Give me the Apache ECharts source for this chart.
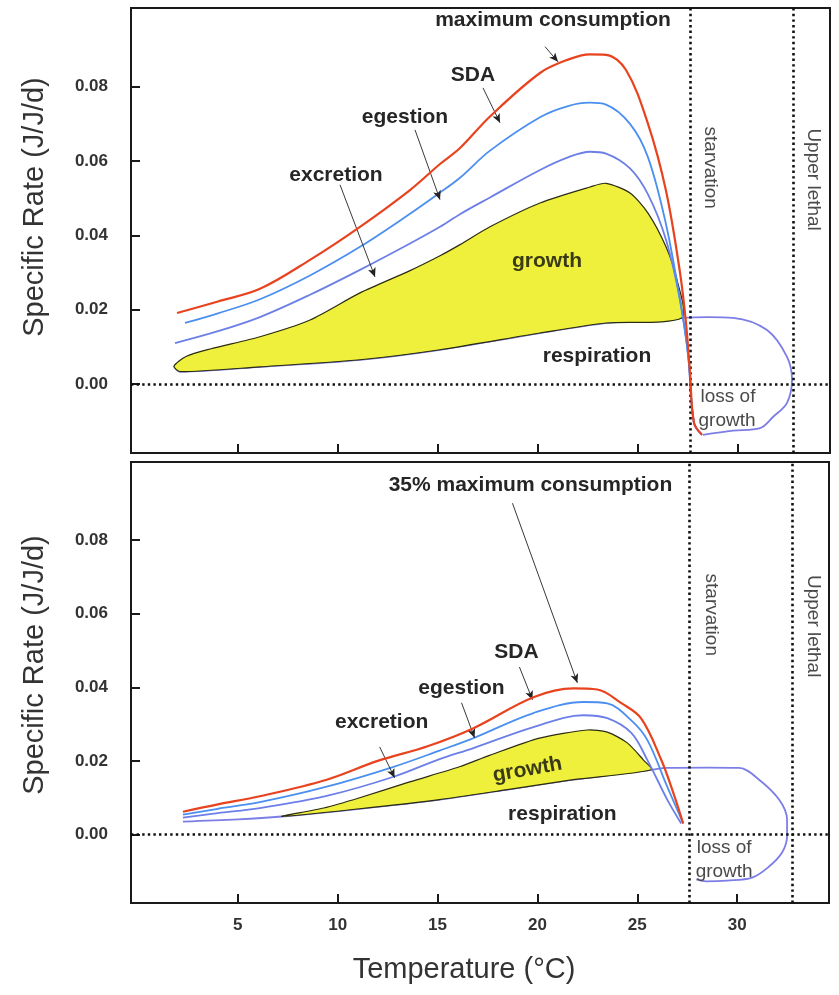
<!DOCTYPE html>
<html>
<head>
<meta charset="utf-8">
<title>Specific rate vs temperature</title>
<script src="https://cdn.jsdelivr.net/npm/echarts@6/dist/echarts.min.js"></script>
<style>
  html, body { margin: 0; padding: 0; background: #ffffff; }
  #chart { width: 839px; height: 995px; }
</style>
</head>
<body>
<div id="chart"></div>
<script>
// ---------- data: temperature (°C) vs specific rate (J/J/d) ----------
// Upper panel: full ration
const consumptionA = [[1.95,0.0191],[4.0,0.0222],[6.1,0.0256],[8.6,0.0334],[11.1,0.0423],[13.6,0.0522],[15.1,0.0592],[16.1,0.0635],[17.6,0.0720],[20.1,0.0837],[21.5,0.0873],[22.6,0.0887],[23.4,0.0886],[24.4,0.0845],[25.5,0.0700],[26.4,0.0520],[27.1,0.0300],[27.4,0.0164],[27.6,0.0030],[27.8,-0.0105],[28.2,-0.0137]];
const egestionTopA = [[2.35,0.0164],[4.0,0.0190],[6.1,0.0228],[8.6,0.0292],[11.1,0.0369],[13.6,0.0458],[15.1,0.0515],[16.1,0.0555],[17.6,0.0628],[20.1,0.0718],[21.5,0.0748],[22.6,0.0757],[23.4,0.0752],[24.6,0.0700],[25.5,0.0610],[26.4,0.0430],[27.1,0.0226],[27.5,0.0080],[27.8,-0.0105],[28.2,-0.0137]];
const excretionTopA = [[1.85,0.0110],[4.0,0.0142],[6.1,0.0180],[8.6,0.0240],[11.1,0.0307],[13.6,0.0378],[15.1,0.0423],[16.1,0.0457],[17.6,0.0502],[20.1,0.0576],[21.5,0.0610],[22.6,0.0625],[23.4,0.0620],[24.6,0.0580],[25.5,0.0510],[26.4,0.0388],[27.1,0.0226],[27.5,0.0080],[27.8,-0.0105],[28.2,-0.0137]];
const growthTopA = [[1.8,0.0048],[2.4,0.0074],[3.6,0.0094],[6.1,0.0127],[8.6,0.0172],[11.1,0.0245],[13.6,0.0305],[15.1,0.0345],[16.1,0.0375],[17.6,0.0423],[20.1,0.0487],[22.6,0.0530],[23.4,0.0540],[24.6,0.0514],[25.5,0.0460],[26.4,0.0369],[26.95,0.0280],[27.2,0.0178]];
const respirationA = [[1.8,0.0048],[2.1,0.0033],[6.1,0.0046],[11.1,0.0065],[15.1,0.0092],[20.1,0.0137],[23.4,0.0164],[27.2,0.0178]];
const lossA = [[28.5,0.0180],[29.75,0.0178],[31.45,0.0145],[32.45,0.0073],[32.7,0.0011],[32.45,-0.0051],[31.75,-0.0089],[31.1,-0.0119],[29.75,-0.0126],[28.25,-0.0137]];

// Lower panel: 35% of maximum ration
const consumptionB = [[2.25,0.0062],[4.0,0.0082],[6.1,0.0104],[9.45,0.0149],[12.0,0.0200],[14.5,0.0240],[16.8,0.0289],[19.8,0.0373],[21.8,0.0397],[23.0,0.0394],[24.2,0.0357],[25.2,0.0315],[26.2,0.0203],[26.8,0.0114],[27.3,0.0030]];
const egestionTopB = [[2.25,0.0054],[4.0,0.0070],[6.1,0.0088],[9.45,0.0130],[12.8,0.0184],[15.1,0.0228],[16.8,0.0262],[19.8,0.0330],[22.3,0.0360],[23.5,0.0356],[24.7,0.0310],[25.5,0.0257],[26.5,0.0130],[27.3,0.0030]];
const excretionTopB = [[2.25,0.0046],[4.0,0.0058],[6.1,0.0072],[9.45,0.0105],[12.8,0.0157],[15.1,0.0205],[16.8,0.0235],[19.8,0.0292],[22.3,0.0324],[23.5,0.0316],[24.7,0.0276],[25.5,0.0203],[26.5,0.0095],[27.2,0.0030]];
const growthTopB = [[7.2,0.0049],[9.3,0.0072],[11.1,0.0100],[13.6,0.0143],[16.1,0.0184],[17.6,0.0215],[20.1,0.0262],[22.5,0.0284],[23.5,0.0278],[24.5,0.0249],[25.3,0.0203],[25.7,0.0176]];
const respirationB = [[2.25,0.0035],[5.0,0.0041],[7.2,0.0049],[11.1,0.0070],[15.1,0.0095],[18.5,0.0122],[21.8,0.0149],[25.7,0.0176]];
const lossB = [[26.5,0.0181],[28.5,0.0182],[30.1,0.0181],[31.1,0.0149],[32.1,0.0095],[32.5,0.0041],[32.5,-0.0005],[32.25,-0.0049],[31.6,-0.0087],[30.75,-0.0117],[29.5,-0.0125],[28.45,-0.0127],[27.95,-0.0122]];

// thresholds and axes
const starvationTemp = 27.6;
const upperLethalTemp = 32.75;
const xTicks = [5, 10, 15, 20, 25, 30];
const yTicks = [0, 0.02, 0.04, 0.06, 0.08];

// ---------- styling / layout ----------
const FONT = '"Liberation Sans", Arial, Helvetica, sans-serif';
const C = {
  consumption: '#e8431e',
  egestion: '#4b8ff0',
  excretion: '#6c7fe8',
  loss: '#7c7ee6',
  fill: '#eff03c',
  outline: '#2c2c14',
  ink: '#222222'
};
const X_MIN = -0.35, X_MAX = 34.6, Y_MIN = -0.0186, Y_MAX = 0.1012;

// annotation placement, per panel (data coordinates)
const layoutA = {
  labels: [
    { text: 'maximum consumption', at: [20.75, 0.0980], kind: 'bold' },
    { text: 'SDA', at: [16.75, 0.0832], kind: 'bold' },
    { text: 'egestion', at: [13.35, 0.0717], kind: 'bold' },
    { text: 'excretion', at: [9.9, 0.0563], kind: 'bold' },
    { text: 'growth', at: [20.45, 0.0329], kind: 'fill' },
    { text: 'respiration', at: [22.95, 0.0075], kind: 'bold' },
    { text: 'loss of', at: [29.5, -0.0035], kind: 'plain' },
    { text: 'growth', at: [29.45, -0.0100], kind: 'plain' },
    { text: 'starvation', at: [28.6, 0.0582], kind: 'plain', rotate: -90 },
    { text: 'Upper lethal', at: [33.75, 0.0550], kind: 'plain', rotate: -90 }
  ],
  pointers: [
    [[20.35, 0.0908], [21.0, 0.0867]],
    [[17.25, 0.0797], [18.1, 0.0703]],
    [[13.85, 0.0684], [15.1, 0.0496]],
    [[10.1, 0.0536], [11.85, 0.0288]]
  ]
};
const layoutB = {
  labels: [
    { text: '35% maximum consumption', at: [19.65, 0.0949], kind: 'bold' },
    { text: 'SDA', at: [18.95, 0.0496], kind: 'bold' },
    { text: 'egestion', at: [16.2, 0.0398], kind: 'bold' },
    { text: 'excretion', at: [12.2, 0.0304], kind: 'bold' },
    { text: 'growth', at: [19.5, 0.0176], kind: 'fill', rotate: 10 },
    { text: 'respiration', at: [21.25, 0.0054], kind: 'bold' },
    { text: 'loss of', at: [29.35, -0.0035], kind: 'plain' },
    { text: 'growth', at: [29.35, -0.0100], kind: 'plain' },
    { text: 'starvation', at: [28.7, 0.0597], kind: 'plain', rotate: -90 },
    { text: 'Upper lethal', at: [33.8, 0.0566], kind: 'plain', rotate: -90 }
  ],
  pointers: [
    [[18.75, 0.0900], [22.0, 0.0412]],
    [[19.1, 0.0455], [19.75, 0.0366]],
    [[16.2, 0.0358], [16.85, 0.0263]],
    [[12.1, 0.0238], [12.85, 0.0154]]
  ]
};

const labelStyles = {
  bold:  { fontSize: 21, fontWeight: 'bold', color: '#262626' },
  fill:  { fontSize: 21, fontWeight: 'bold', color: '#3a3a16' },
  plain: { fontSize: 19, fontWeight: 'normal', color: '#4a4a4a' }
};

// closed outline of the growth band: upper edge left->right, respiration back right->left
function growthOutline(top, resp) {
  const x0 = top[0][0], x1 = top[top.length - 1][0];
  const lower = resp.filter(p => p[0] > x0 && p[0] < x1).reverse();
  return top.concat(lower);
}

function panelSeries(i, d, layout) {
  const lineBase = {
    type: 'line', xAxisIndex: i, yAxisIndex: i, showSymbol: false,
    smooth: 0.35, silent: true, animation: false
  };
  const outline = growthOutline(d.growthTop, d.respiration);
  return [
    // respiration continuing into the loss-of-growth loop
    Object.assign({}, lineBase, {
      name: 'respiration', z: 1,
      data: d.respiration.concat(d.loss),
      lineStyle: { color: C.loss, width: 1.8 }
    }),
    // growth band
    {
      type: 'custom', xAxisIndex: i, yAxisIndex: i, z: 2, silent: true, animation: false,
      data: [0],
      renderItem: function (params, api) {
        return {
          type: 'polygon',
          shape: { points: outline.map(p => api.coord(p)), smooth: 0.25 },
          style: { fill: C.fill, stroke: C.outline, lineWidth: 1.2 }
        };
      }
    },
    Object.assign({}, lineBase, {
      name: 'excretion', z: 3, data: d.excretionTop,
      lineStyle: { color: C.excretion, width: 1.8 }
    }),
    Object.assign({}, lineBase, {
      name: 'egestion', z: 4, data: d.egestionTop,
      lineStyle: { color: C.egestion, width: 1.8 }
    }),
    Object.assign({}, lineBase, {
      name: 'consumption', z: 5, data: d.consumption,
      lineStyle: { color: C.consumption, width: 2.2 }
    }),
    // dotted guides: zero line, starvation and upper lethal temperatures
    {
      type: 'line', xAxisIndex: i, yAxisIndex: i, data: [], z: 6, silent: true, animation: false,
      markLine: {
        silent: true, symbol: 'none', animation: false,
        label: { show: false },
        lineStyle: { color: '#111', width: 2.6, type: [2.4, 3.2], cap: 'butt' },
        data: [{ yAxis: 0 }, { xAxis: starvationTemp }, { xAxis: upperLethalTemp }]
      }
    },
    // pointer arrows and text labels
    {
      type: 'line', xAxisIndex: i, yAxisIndex: i, data: [], z: 7, silent: true, animation: false,
      markLine: {
        silent: true, animation: false,
        symbol: ['none', 'arrow'], symbolSize: 8,
        label: { show: false },
        lineStyle: { color: '#222', width: 0.9, type: 'solid' },
        data: layout.pointers.map(p => [
          { coord: p[0], symbol: 'none' },
          { coord: p[1], symbol: 'arrow', symbolSize: [6, 9] }
        ])
      },
      markPoint: {
        silent: true, animation: false,
        symbol: 'circle', symbolSize: 1,
        itemStyle: { color: 'rgba(0,0,0,0)' },
        data: layout.labels.map(l => ({
          name: l.text,
          coord: l.at,
          label: Object.assign({
            show: true, position: 'inside', formatter: '{b}',
            fontFamily: FONT, rotate: l.rotate || 0
          }, labelStyles[l.kind])
        }))
      }
    }
  ];
}

const chart = echarts.init(document.getElementById('chart'), null, { renderer: 'canvas' });

function xAxisFor(i) {
  return {
    type: 'value', gridIndex: i, min: X_MIN, max: X_MAX,
    axisLine: { show: true, onZero: false, lineStyle: { color: '#1a1a1a', width: 2 } },
    splitLine: { show: false },
    axisTick: { show: true, inside: true, length: 9, customValues: xTicks,
                lineStyle: { color: '#1a1a1a', width: 2 } },
    axisLabel: { show: i === 1, customValues: xTicks, margin: 14,
                 fontFamily: FONT, fontSize: 17, fontWeight: 'bold', color: '#333' }
  };
}
function yAxisFor(i) {
  return {
    type: 'value', gridIndex: i, min: Y_MIN, max: Y_MAX,
    axisLine: { show: true, onZero: false, lineStyle: { color: '#1a1a1a', width: 2 } },
    splitLine: { show: false },
    axisTick: { show: true, inside: true, length: 9, customValues: yTicks,
                lineStyle: { color: '#1a1a1a', width: 2 } },
    axisLabel: { customValues: yTicks, margin: 23, formatter: v => v.toFixed(2),
                 fontFamily: FONT, fontSize: 17, fontWeight: 'bold', color: '#333' }
  };
}

const titleStyle = { fontFamily: FONT, fontSize: 29, fill: '#333', textAlign: 'center', textVerticalAlign: 'middle' };

chart.setOption({
  animation: false,
  backgroundColor: '#ffffff',
  grid: [
    { left: 131, top: 8, width: 699, height: 445, show: true, borderColor: '#1a1a1a', borderWidth: 2 },
    { left: 131, top: 462, width: 698, height: 441, show: true, borderColor: '#1a1a1a', borderWidth: 2 }
  ],
  xAxis: [xAxisFor(0), xAxisFor(1)],
  yAxis: [yAxisFor(0), yAxisFor(1)],
  graphic: [
    { type: 'text', x: 35, y: 207, rotation: Math.PI / 2, style: Object.assign({ text: 'Specific Rate (J/J/d)' }, titleStyle) },
    { type: 'text', x: 35, y: 665, rotation: Math.PI / 2, style: Object.assign({ text: 'Specific Rate (J/J/d)' }, titleStyle) },
    { type: 'text', x: 464, y: 970, style: Object.assign({ text: 'Temperature (°C)' }, titleStyle) }
  ],
  series: [].concat(
    panelSeries(0, {
      consumption: consumptionA, egestionTop: egestionTopA, excretionTop: excretionTopA,
      growthTop: growthTopA, respiration: respirationA, loss: lossA
    }, layoutA),
    panelSeries(1, {
      consumption: consumptionB, egestionTop: egestionTopB, excretionTop: excretionTopB,
      growthTop: growthTopB, respiration: respirationB, loss: lossB
    }, layoutB)
  )
});
</script>
</body>
</html>
